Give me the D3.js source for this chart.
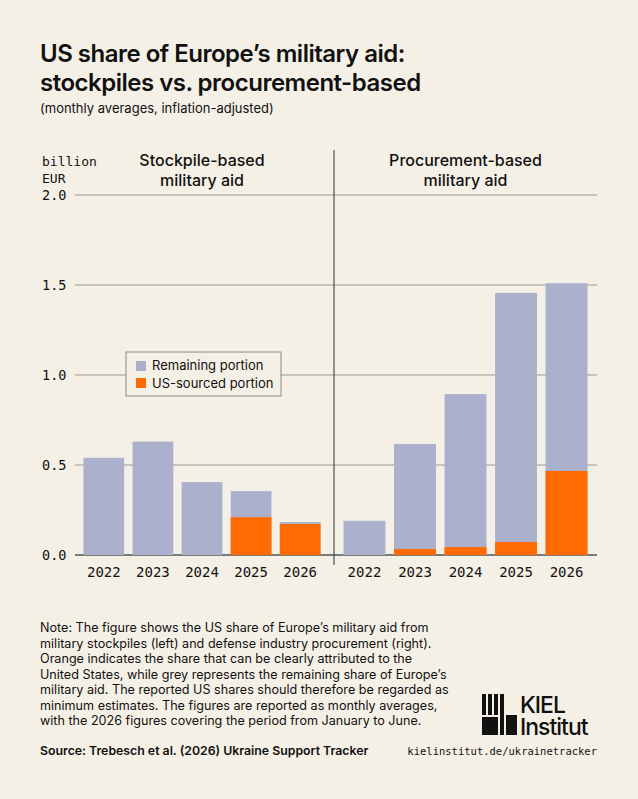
<!DOCTYPE html>
<html>
<meta charset="utf-8">
<head>
<script src="https://cdn.jsdelivr.net/npm/d3@7"></script>
<style>
  body { margin: 0; background: #f5f0e6; }
  text { font-family: Inter, "Noto Sans", sans-serif; fill: #111; }
  .mono { font-family: "DejaVu Sans Mono", "Liberation Mono", monospace; }
</style>
</head>
<body>
<svg id="chart" width="638" height="799"></svg>
<script>
var years = ["2022", "2023", "2024", "2025", "2026"];
// stockpile-based
var stockTotal = [0.54, 0.63, 0.405, 0.355, 0.183];
var stockUS    = [0, 0, 0, 0.21, 0.172];
// procurement-based
var procTotal  = [0.19, 0.617, 0.894, 1.456, 1.51];
var procUS     = [0, 0.033, 0.044, 0.072, 0.467];
var yTicks = [0, 0.5, 1.0, 1.5, 2.0];

var grey = "#abb1cc", orange = "#ff6b00";
var svg = d3.select("#chart");
svg.append("rect").attr("width", 638).attr("height", 799).attr("fill", "#f5f0e6");

svg.append("text").attr("x", 40).attr("y", 62).style("font-size", "24px").style("font-weight", 600)
  .style("letter-spacing", "-0.5px").text("US share of Europe\u2019s military aid:");
svg.append("text").attr("x", 40).attr("y", 91).style("font-size", "24px").style("font-weight", 600)
  .style("letter-spacing", "-0.5px").text("stockpiles vs. procurement-based");
svg.append("text").attr("x", 40).attr("y", 113).style("font-size", "13px").text("(monthly averages, inflation-adjusted)");

var y = d3.scaleLinear().domain([0, 2]).range([555, 195]);
var xL = d3.scaleBand().domain(years).range([82, 322]).paddingInner(0.17).paddingOuter(0.03);
var xR = d3.scaleBand().domain(years).range([342, 589]).paddingInner(0.17).paddingOuter(0.03);

// grid
yTicks.forEach(function(t) {
  svg.append("line").attr("x1", 75).attr("x2", 597).attr("y1", y(t)).attr("y2", y(t))
    .attr("stroke", t === 0 ? "#555" : "#9a9890").attr("stroke-width", t === 0 ? 1.5 : 1);
  svg.append("text").attr("class", "mono").attr("x", 42).attr("y", y(t) + 5)
    .style("font-size", "13.5px").text(d3.format(".1f")(t));
});
svg.append("text").attr("class", "mono").attr("x", 42).attr("y", 166).style("font-size", "13px").text("billion");
svg.append("text").attr("class", "mono").attr("x", 42).attr("y", 183).style("font-size", "13px").text("EUR");

svg.append("line").attr("x1", 334).attr("x2", 334).attr("y1", 150).attr("y2", 565).attr("stroke", "#333");

function panel(x, total, us, title) {
  var g = svg.append("g");
  g.selectAll(".tot").data(total).join("rect")
    .attr("x", function(d, i) { return x(years[i]); }).attr("width", x.bandwidth())
    .attr("y", function(d) { return y(d); }).attr("height", function(d) { return y(0) - y(d); })
    .attr("fill", grey);
  g.selectAll(".us").data(us).join("rect")
    .attr("x", function(d, i) { return x(years[i]); }).attr("width", x.bandwidth())
    .attr("y", function(d) { return y(d); }).attr("height", function(d) { return y(0) - y(d); })
    .attr("fill", orange);
  g.selectAll(".yr").data(years).join("text").attr("class", "mono")
    .attr("x", function(d) { return x(d) + x.bandwidth() / 2; }).attr("y", 577)
    .attr("text-anchor", "middle").style("font-size", "14px").text(function(d) { return d; });
  var mid = (x.range()[0] + x.range()[1]) / 2;
  title.forEach(function(t, i) {
    g.append("text").attr("x", mid).attr("y", 166 + i * 20).attr("text-anchor", "middle")
      .style("font-size", "16px").style("font-weight", 500).text(t);
  });
}
panel(xL, stockTotal, stockUS, ["Stockpile-based", "military aid"]);
panel(xR, procTotal, procUS, ["Procurement-based", "military aid"]);

// legend
var lg = svg.append("g").attr("transform", "translate(126,352)");
lg.append("rect").attr("width", 155).attr("height", 44).attr("fill", "#f5f0e6").attr("stroke", "#888");
lg.append("rect").attr("x", 10).attr("y", 9).attr("width", 10).attr("height", 10).attr("fill", grey);
lg.append("text").attr("x", 26).attr("y", 18).style("font-size", "13px").text("Remaining portion");
lg.append("rect").attr("x", 10).attr("y", 26).attr("width", 10).attr("height", 10).attr("fill", orange);
lg.append("text").attr("x", 26).attr("y", 36).style("font-size", "13px").text("US-sourced portion");

// note
var note = ["Note: The figure shows the US share of Europe\u2019s military aid from",
  "military stockpiles (left) and defense industry procurement (right).",
  "Orange indicates the share that can be clearly attributed to the",
  "United States, while grey represents the remaining share of Europe\u2019s",
  "military aid. The reported US shares should therefore be regarded as",
  "minimum estimates. The figures are reported as monthly averages,",
  "with the 2026 figures covering the period from January to June."];
note.forEach(function(t, i) {
  svg.append("text").attr("x", 40).attr("y", 632 + i * 15.5).style("font-size", "12.6px").text(t);
});
svg.append("text").attr("x", 40).attr("y", 755).style("font-size", "12.3px").style("font-weight", 600)
  .text("Source: Trebesch et al. (2026) Ukraine Support Tracker");
svg.append("text").attr("class", "mono").attr("x", 597).attr("y", 755).attr("text-anchor", "end")
  .style("font-size", "10.5px").text("kielinstitut.de/ukrainetracker");

// logo
var logo = svg.append("g").attr("transform", "translate(482,694)");
[[0,0,4,21],[6,0,4,21],[12,0,4,21],[18,0,4,41],[24,21,11,20],[0,23,16,18]].forEach(function(r) {
  logo.append("rect").attr("x", r[0]).attr("y", r[1]).attr("width", r[2]).attr("height", r[3]).attr("fill", "#111");
});
logo.append("text").attr("x", 38).attr("y", 19).style("font-size", "23px").style("font-weight", 500)
  .style("letter-spacing", "-1px").text("KIEL");
logo.append("text").attr("x", 38).attr("y", 41).style("font-size", "23px").style("font-weight", 500)
  .style("letter-spacing", "-1px").text("Institut");
</script>
</body>
</html>
